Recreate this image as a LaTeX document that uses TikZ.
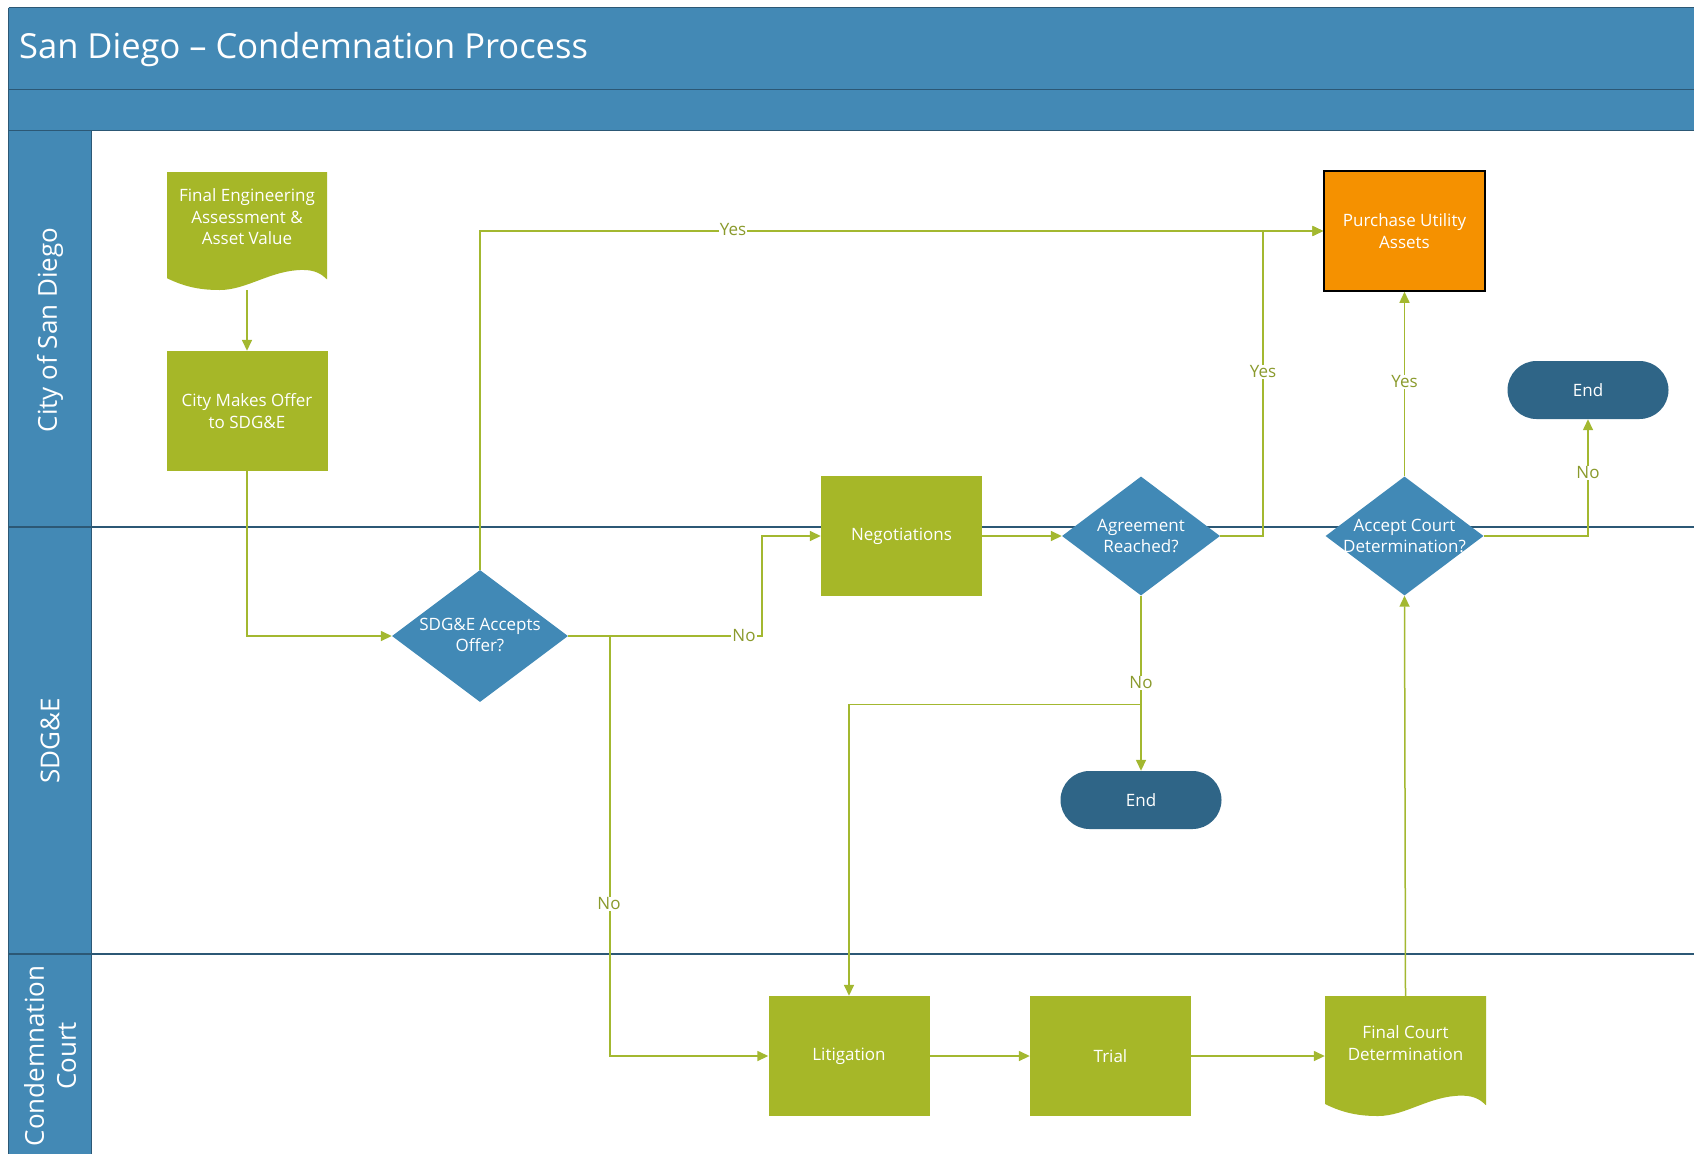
\documentclass[tikz,border=0pt]{standalone}
\usepackage{fontspec}
\setmainfont{Open Sans}
\usetikzlibrary{shapes.geometric,arrows.meta,calc}
\definecolor{hblue}{HTML}{4389B5}
\definecolor{hline}{HTML}{2C5875}
\definecolor{boxgreen}{HTML}{A6B728}
\definecolor{lgreen}{HTML}{A3B830}
\definecolor{dblue}{HTML}{4189B6}
\definecolor{dkblue}{HTML}{2F6587}
\definecolor{orng}{HTML}{F59100}
\definecolor{olive}{HTML}{8A9A2C}
\pgfdeclarelayer{bg}
\pgfdeclarelayer{edges}
\pgfsetlayers{bg,edges,main}
\newcommand{\docshape}[4]{%
 \fill[boxgreen] (#1,#2) -- ({#1+#3},#2) -- ({#1+#3},{#2+0.91*#4})
 .. controls ({#1+0.97*#3},{#2+0.87*#4}) and ({#1+0.93*#3},{#2+0.83*#4}) .. ({#1+0.85*#3},{#2+0.83*#4})
 .. controls ({#1+0.65*#3},{#2+0.83*#4}) and ({#1+0.5*#3},{#2+#4}) .. ({#1+0.33*#3},{#2+#4})
 .. controls ({#1+0.22*#3},{#2+#4}) and ({#1+0.12*#3},{#2+0.98*#4}) .. (#1,{#2+0.9*#4}) -- cycle;}
\begin{document}
\begin{tikzpicture}[x=1pt,y=-1pt,
  nfont/.style={font=\fontsize{17}{21.6}\selectfont},
  proc/.style={rectangle, fill=boxgreen, minimum width=161pt, minimum height=120pt, text=white, align=center, nfont, inner sep=0pt},
  docbox/.style={rectangle, minimum width=161pt, minimum height=120pt, inner sep=0pt},
  dtext/.style={text=white, align=center, nfont, inner sep=0pt},
  dec/.style={diamond, fill=dblue, inner sep=0pt},
  term/.style={rectangle, rounded corners=29pt, fill=dkblue, minimum width=161pt, minimum height=58pt, text=white, nfont, inner sep=0pt},
  conn/.style={draw=lgreen, line width=1.5pt, -{Triangle[length=11pt,width=10pt]}},
  lbl/.style={fill=white, text=olive, nfont, inner sep=1pt},
  lanetext/.style={text=white, align=center, font=\fontsize{26}{32}\selectfont, rotate=90},
  laneline/.style={draw=hline, line width=1.2pt}]
\useasboundingbox (0,0) rectangle (1694,1154);
\begin{pgfonlayer}{bg}
\fill[white] (0,0) rectangle (1694,1154);
\fill[hblue] (8.6,7.6) rectangle (1694,130.7);
\fill[hblue] (8.6,130.7) rectangle (91.8,1154);
\draw[laneline] (8.6,7.6) -- (1694,7.6);
\draw[laneline] (8.6,7.6) -- (8.6,1154);
\draw[laneline] (8.6,89.7) -- (1694,89.7);
\draw[laneline] (8.6,130.7) -- (1694,130.7);
\draw[laneline] (91.8,130.7) -- (91.8,1154);
\draw[laneline] (8.6,527) -- (1694,527);
\draw[laneline] (8.6,954) -- (1694,954);
\end{pgfonlayer}
\node[anchor=west, text=white, font=\fontsize{34.5}{40}\selectfont, inner sep=0pt] (title) at (19,50) {San Diego – Condemnation Process};
\node[lanetext] (lane1) at (50,330) {City of San Diego};
\node[lanetext] (lane2) at (50,741) {SDG\&E};
\node[lanetext] (lane3) at (50,1056) {Condemnation\\Court};
% shapes
\docshape{167}{172}{160}{118}
\node[docbox, minimum height=118pt] (feng) at (247,231) {};
\node[dtext] (fengt) at (247,217) {Final Engineering\\Assessment \&\\Asset Value};
\node[proc] (city) at (247,411) {City Makes Offer\\to SDG\&E};
\node[dec, minimum width=176pt, minimum height=132pt] (sdg) at (480,636) {};
\node[dtext] (sdgt) at (480,635) {SDG\&E Accepts\\Offer?};
\node[proc] (nego) at (901.5,536) {Negotiations};
\node[dec, minimum width=158pt, minimum height=119pt] (agree) at (1141,536) {};
\node[dtext] (agreet) at (1141,536) {Agreement\\Reached?};
\node[dec, minimum width=158pt, minimum height=119pt] (acc) at (1404.5,536) {};
\node[dtext] (acct) at (1404.5,536) {Accept Court\\Determination?};
\node[proc, fill=orng, draw=black, line width=1.5pt, minimum width=161pt, minimum height=120pt] (purch) at (1404.5,231) {Purchase Utility\\Assets};
\node[term] (endr) at (1588,390) {End};
\node[term] (endm) at (1141,800) {End};
\node[proc] (lit) at (849,1056) {Litigation};
\node[proc] (trial) at (1110.5,1056) {Trial};
\docshape{1325}{996}{161}{120}
\node[docbox] (fcourt) at (1405.5,1056) {};
\node[dtext] (fcourtt) at (1405.5,1043) {Final Court\\Determination};
% connectors
\begin{pgfonlayer}{edges}
\draw[conn] (feng.south) -- (city.north);
\draw[conn] (city.south) |- (sdg.west);
\draw[conn] (sdg.north) |- (purch.west);
\draw[conn] (sdg.east) -- ++(194,0) |- (nego.west);
\draw[conn] (sdg.east) -- ++(42,0) |- (lit.west);
\draw[conn] (nego.east) -- (agree.west);
\draw[conn] (agree.east) -- ++(43,0) |- (purch.west);
\draw[conn] (agree.south) -- (endm.north);
\draw[conn] (agree.south) -- ++(0,109) -| (lit.north);
\draw[conn] (lit.east) -- (trial.west);
\draw[conn] (trial.east) -- (fcourt.west);
\draw[conn] (fcourt.north) -- (acc.south);
\draw[conn] (acc.north) -- (purch.south);
\draw[conn] (acc.east) -| (endr.south);
\end{pgfonlayer}
% labels
\node[lbl] (y1) at (733,230) {Yes};
\node[lbl] (n1) at (744,636) {No};
\node[lbl] (n2) at (609,904) {No};
\node[lbl] (y2) at (1263,372) {Yes};
\node[lbl] (n3) at (1141,683) {No};
\node[lbl] (y3) at (1404.5,382) {Yes};
\node[lbl] (n4) at (1588,473) {No};
\end{tikzpicture}
\end{document}
